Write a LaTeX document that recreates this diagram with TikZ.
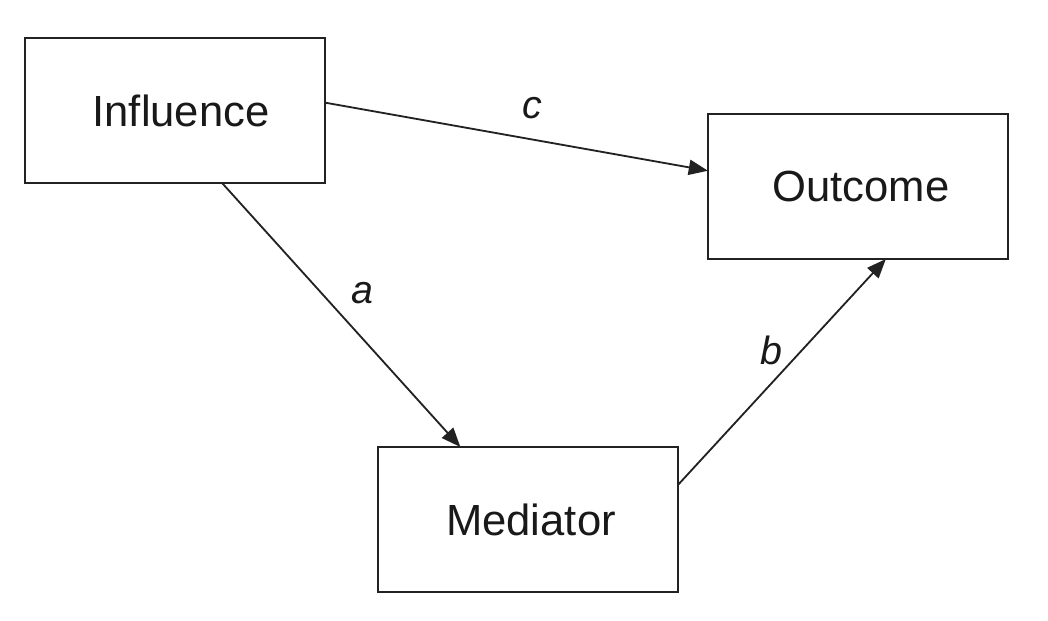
\documentclass[tikz,border=0pt]{standalone}
\usepackage{fontspec}
\setmainfont{Liberation Sans}
\usepackage{tikz}
\usetikzlibrary{arrows.meta,positioning}
\definecolor{inkgray}{HTML}{222222}

\begin{document}
\begin{tikzpicture}[
	x=0.025cm,y=-0.025cm,
	var/.style={rectangle,draw=inkgray,line width=1.5pt,fill=white,minimum width=7.5cm,minimum height=3.625cm,inner sep=0pt,outer sep=0pt,font=\fontsize{31}{36}\selectfont,text=black!90},
	arr/.style={-{Triangle[length=0.48cm,width=0.38cm]},line width=1.3pt,inkgray},
	lab/.style={font=\fontsize{28}{32}\selectfont\itshape,text=black!90}
	]
	\useasboundingbox (0,0) rectangle (1048,620);
	\node[var] (infl) at (175,110.5) {\hspace*{0.3cm}Influence};
	\node[var] (outc) at (858,186.5) {\hspace*{0.15cm}Outcome};
	\node[var] (medi) at (528,519.5) {\hspace*{0.15cm}Mediator};
	\draw[arr] (infl.3.8)--(outc.174.5);
	\draw[arr] (infl.-57)--(medi.133.7);
	\draw[arr] (medi.13.7)--(outc.-69.7);
	\node[lab] (lc) at (532,108) {c};
	\node[lab] (la) at (362,293) {a};
	\node[lab] (lb) at (771,350) {b};
\end{tikzpicture}
\end{document}
